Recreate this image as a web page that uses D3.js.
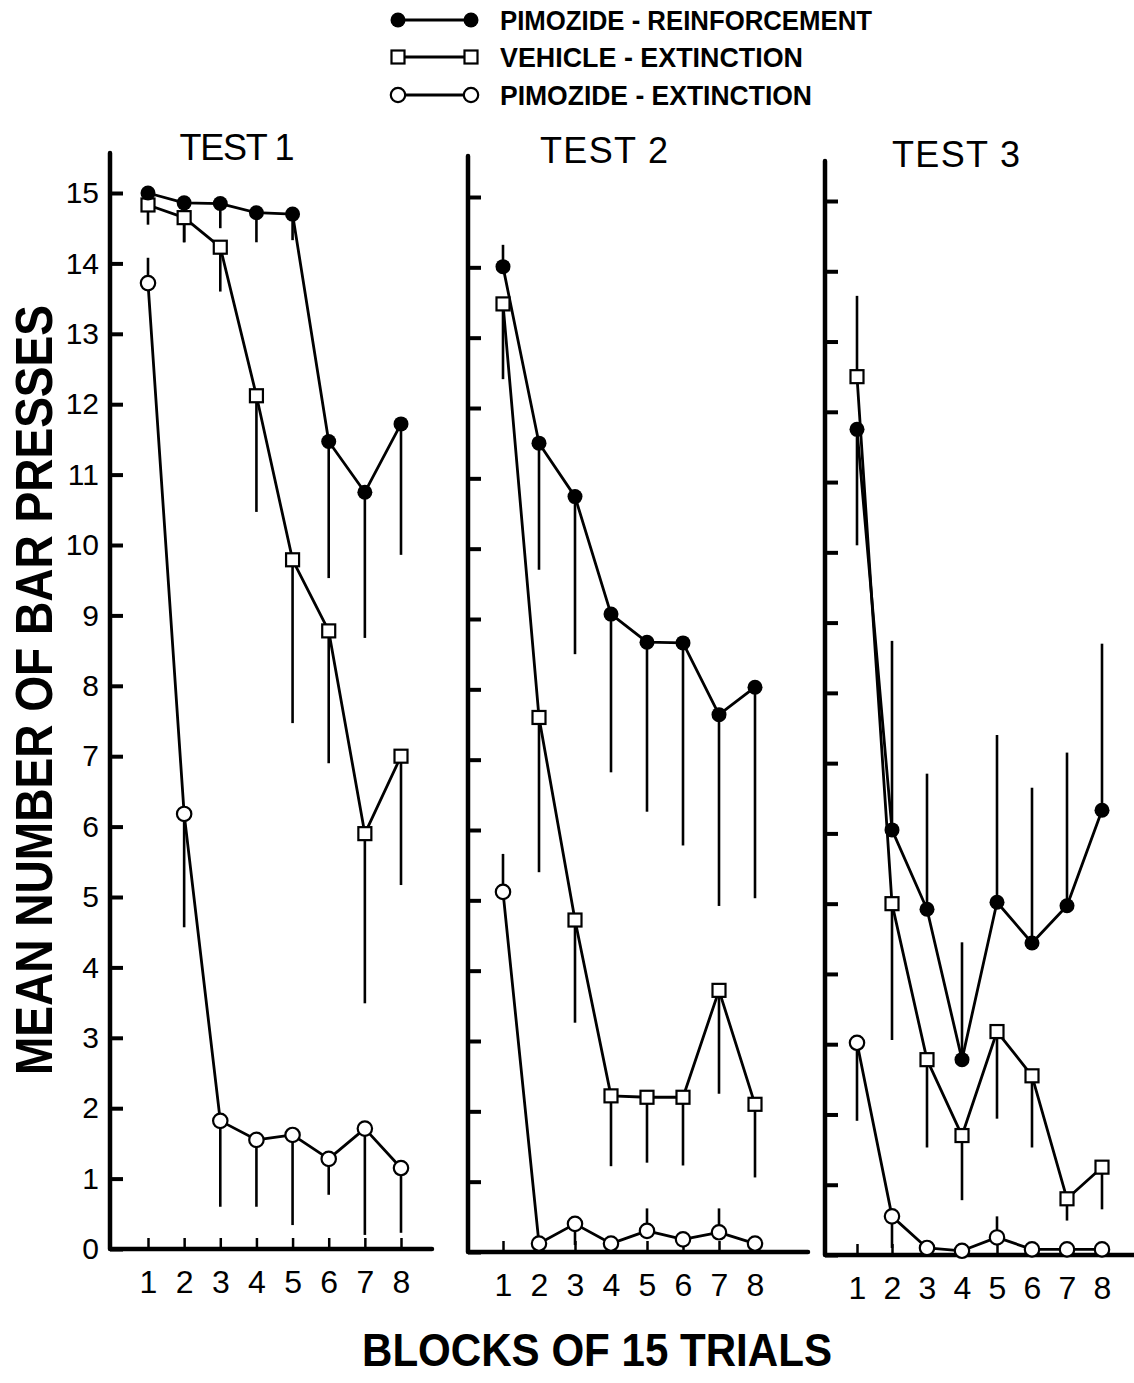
<!DOCTYPE html>
<html>
<head>
<meta charset="utf-8">
<script src="https://cdn.jsdelivr.net/npm/d3@7"></script>
<style>
  body { margin: 0; background: #fff; }
  svg { display: block; font-family: "Liberation Sans", Arial, sans-serif; }
</style>
</head>
<body>
<script>
// mean bar presses per block, three tests side by side

var blocks = [1, 2, 3, 4, 5, 6, 7, 8];
var yTicks = [0, 1, 2, 3, 4, 5, 6, 7, 8, 9, 10, 11, 12, 13, 14, 15];
var tests = ["TEST 1", "TEST 2", "TEST 3"];
var legendLabels = ["PIMOZIDE - REINFORCEMENT", "VEHICLE - EXTINCTION", "PIMOZIDE - EXTINCTION"];

// pimozide - reinforcement (filled circles), one row per test
var pimReinf = [
	[15.0, 14.86, 14.85, 14.72, 14.70, 11.47, 10.75, 11.72],
	[14.01, 11.5, 10.74, 9.07, 8.67, 8.66, 7.64, 8.03],
	[11.75, 6.05, 4.92, 2.78, 5.02, 4.44, 4.97, 6.33]
];
// end value of the error bar drawn from each mean (null = none)
var pimReinfErr = [
	[null, 14.3, 14.5, 14.3, 14.33, 9.53, 8.68, 9.86],
	[14.32, 9.7, 8.5, 6.82, 6.26, 5.78, 4.92, 5.03],
	[10.1, 8.74, 6.85, 4.45, 7.4, 6.65, 7.15, 8.7]
];

// vehicle - extinction (open squares)
var vehExt = [
	[14.83, 14.65, 14.23, 12.12, 9.79, 8.78, 5.9, 7.0],
	[13.48, 7.6, 4.72, 2.22, 2.2, 2.2, 3.72, 2.1],
	[12.5, 5.0, 2.78, 1.7, 3.18, 2.55, 0.8, 1.25]
];
var vehExtErr = [
	[14.55, 14.3, 13.6, 10.47, 7.47, 6.9, 3.49, 5.17],
	[12.41, 5.4, 3.26, 1.22, 1.27, 1.23, 2.25, 1.06],
	[13.65, 3.06, 1.53, 0.78, 1.94, 1.53, 0.49, 0.65]
];

// pimozide - extinction (open circles)
var pimExt = [
	[13.72, 6.18, 1.82, 1.55, 1.62, 1.28, 1.71, 1.15],
	[5.12, 0.12, 0.4, 0.12, 0.3, 0.18, 0.28, 0.12],
	[3.02, 0.55, 0.1, 0.06, 0.25, 0.08, 0.08, 0.08]
];
var pimExtErr = [
	[14.08, 4.57, 0.6, 0.6, 0.34, 0.77, 0.2, 0.23],
	[5.66, null, 0.1, null, 0.62, null, 0.62, null],
	[1.91, 0.1, null, null, 0.55, null, null, null]
];

// where each panel sits on the page
var panels = [
	{ axisX: 110, top: 153, y0: 1249, y15: 193, xa: 148, xb: 401, end: 432, titleX: 237, titleY: 160, titleW: 115 },
	{ axisX: 468, top: 156, y0: 1252, y15: 197, xa: 503, xb: 755, end: 808, titleX: 604, titleY: 163, titleW: 128 },
	{ axisX: 825, top: 161, y0: 1255, y15: 201, xa: 857, xb: 1102, end: 1134, titleX: 956, titleY: 167, titleW: 128 }
];

var svg = d3.select("body").append("svg")
	.attr("width", 1134)
	.attr("height", 1383);

svg.append("rect").attr("width", 1134).attr("height", 1383).attr("fill", "#fff");

var drawMarker = function(sel, kind, cx, cy) {
	if (kind === "filled") {
		sel.append("circle").attr("cx", cx).attr("cy", cy).attr("r", 7.5).attr("fill", "#000");
	} else if (kind === "square") {
		sel.append("rect").attr("x", cx - 6.5).attr("y", cy - 6.5).attr("width", 13).attr("height", 13)
			.attr("fill", "#fff").attr("stroke", "#000").attr("stroke-width", 2.2);
	} else {
		sel.append("circle").attr("cx", cx).attr("cy", cy).attr("r", 7.2)
			.attr("fill", "#fff").attr("stroke", "#000").attr("stroke-width", 2.2);
	}
};

panels.forEach(function(p, i) {
	var x = d3.scaleLinear().domain([1, 8]).range([p.xa, p.xb]);
	var y = d3.scaleLinear().domain([0, 15]).range([p.y0, p.y15]);
	var g = svg.append("g");

	// y ticks point inward, labels only on the first panel
	var yAxis = d3.axisLeft(y)
		.tickValues(yTicks)
		.tickSizeInner(-13)
		.tickSizeOuter(0)
		.tickPadding(11)
		.tickFormat(i === 0 ? d3.format("d") : function() { return ""; });
	g.append("g")
		.attr("transform", "translate(" + p.axisX + ",0)")
		.call(yAxis)
		.call(function(s) {
			s.select(".domain").remove();
			s.selectAll("line").attr("stroke", "#000").attr("stroke-width", 4);
			s.selectAll("text").attr("fill", "#000").style("font-size", "30px");
		});

	var xAxis = d3.axisBottom(x)
		.tickValues(blocks)
		.tickFormat(d3.format("d"))
		.tickSizeInner(-11)
		.tickSizeOuter(0)
		.tickPadding(21);
	g.append("g")
		.attr("transform", "translate(0," + p.y0 + ")")
		.call(xAxis)
		.call(function(s) {
			s.select(".domain").remove();
			s.selectAll("line").attr("stroke", "#000").attr("stroke-width", 2.5);
			s.selectAll("text").attr("fill", "#000").style("font-size", "32px");
		});

	g.append("path")
		.attr("d", "M" + p.axisX + "," + p.top + "L" + p.axisX + "," + p.y0 + "L" + p.end + "," + p.y0)
		.attr("fill", "none")
		.attr("stroke", "#000")
		.attr("stroke-width", 4.5)
		.attr("stroke-linejoin", "round")
		.attr("stroke-linecap", "round");

	g.append("text")
		.attr("x", p.titleX)
		.attr("y", p.titleY)
		.attr("text-anchor", "middle")
		.attr("textLength", p.titleW)
		.attr("lengthAdjust", "spacing")
		.style("font-size", "36px")
		.text(tests[i]);

	var series = [
		{ kind: "open", vals: pimExt[i], err: pimExtErr[i] },
		{ kind: "square", vals: vehExt[i], err: vehExtErr[i] },
		{ kind: "filled", vals: pimReinf[i], err: pimReinfErr[i] }
	];

	// error bars
	series.forEach(function(s) {
		g.selectAll(null)
			.data(s.vals.map(function(v, j) { return { b: blocks[j], v: v, e: s.err[j] }; })
				.filter(function(d) { return d.e !== null; }))
			.enter().append("line")
			.attr("x1", function(d) { return x(d.b); })
			.attr("x2", function(d) { return x(d.b); })
			.attr("y1", function(d) { return y(d.v); })
			.attr("y2", function(d) { return y(d.e); })
			.attr("stroke", "#000")
			.attr("stroke-width", 2.6);
	});

	var line = d3.line()
		.x(function(d, j) { return x(blocks[j]); })
		.y(function(d) { return y(d); });

	series.forEach(function(s) {
		g.append("path")
			.attr("d", line(s.vals))
			.attr("fill", "none")
			.attr("stroke", "#000")
			.attr("stroke-width", 2.8)
			.attr("stroke-linejoin", "round");
	});

	series.forEach(function(s) {
		var mg = g.append("g");
		s.vals.forEach(function(v, j) {
			drawMarker(mg, s.kind, x(blocks[j]), y(v));
		});
	});
});

// legend
var legendKinds = ["filled", "square", "open"];
var legendY = [20, 57, 95];
var legendW = [372, 303, 312];
legendLabels.forEach(function(lab, k) {
	var lg = svg.append("g");
	lg.append("line")
		.attr("x1", 398).attr("x2", 471)
		.attr("y1", legendY[k]).attr("y2", legendY[k])
		.attr("stroke", "#000").attr("stroke-width", 2.8);
	drawMarker(lg, legendKinds[k], 398, legendY[k]);
	drawMarker(lg, legendKinds[k], 471, legendY[k]);
	lg.append("text")
		.attr("x", 500)
		.attr("y", legendY[k] + 10)
		.attr("textLength", legendW[k])
		.attr("lengthAdjust", "spacingAndGlyphs")
		.style("font-size", "27px")
		.style("font-weight", "bold")
		.text(lab);
});

// axis titles
svg.append("text")
	.attr("transform", "translate(52,690) rotate(-90)")
	.attr("text-anchor", "middle")
	.attr("textLength", 770)
	.attr("lengthAdjust", "spacingAndGlyphs")
	.style("font-size", "52px")
	.style("font-weight", "bold")
	.text("MEAN NUMBER OF BAR PRESSES");

svg.append("text")
	.attr("x", 597)
	.attr("y", 1366)
	.attr("text-anchor", "middle")
	.attr("textLength", 470)
	.attr("lengthAdjust", "spacingAndGlyphs")
	.style("font-size", "46px")
	.style("font-weight", "bold")
	.text("BLOCKS OF 15 TRIALS");
</script>
</body>
</html>
